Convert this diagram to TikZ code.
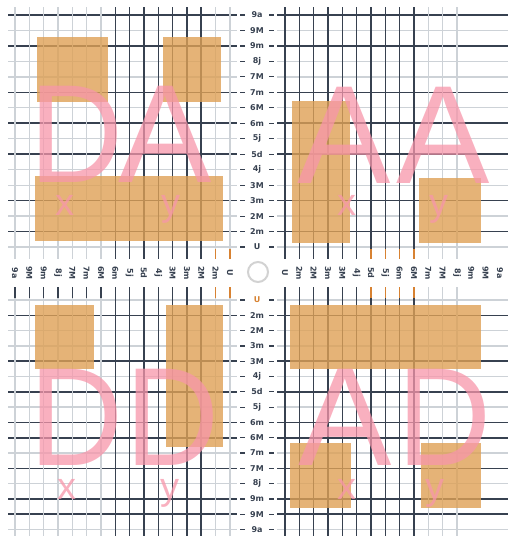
\documentclass[tikz,border=0pt]{standalone}
\usepackage{fontspec}
\setmainfont{Liberation Sans}
\newfontfamily\labelfont{DejaVu Sans}
\definecolor{rulingdark}{RGB}{55,65,80}
\definecolor{rulinglight}{RGB}{205,210,215}
\definecolor{rulingorange}{RGB}{215,130,50}
\definecolor{boxorange}{RGB}{222,160,85}
\definecolor{letterpink}{RGB}{247,150,170}

\begin{document}
\begin{tikzpicture}[x=1pt,y=-1pt,
  darkrule/.style={draw=rulingdark,line width=1.6pt},
  lightrule/.style={draw=rulinglight,line width=1.3pt},
  orangerule/.style={draw=rulingorange,line width=1.6pt},
  norule/.style={draw=none},
  rowlabel/.style={inner sep=0,text=rulingdark,font=\labelfont\bfseries\fontsize{8}{8}\selectfont},
  collabel/.style={rowlabel,rotate=-90},
  orangebox/.style={fill=boxorange,fill opacity=.8},
  bigletter/.style={anchor=base,inner sep=0,text=letterpink,text opacity=.75,font=\fontsize{140}{140}\selectfont},
  narrowd/.style={bigletter,xscale=.93},
  axisletter/.style={anchor=base,inner sep=0,text=letterpink,text opacity=.75,font=\fontsize{38}{38}\selectfont},
  hubring/.style={circle,draw=gray!35,line width=2pt,fill=white,minimum size=20pt,inner sep=0}]
  \useasboundingbox (0,0) rectangle (508,538);

  \foreach \lab/\s [count=\k from 0] in {9a/darkrule,9M/lightrule,9m/darkrule,8j/lightrule,
      7M/lightrule,7m/darkrule,6M/lightrule,6m/darkrule,5j/lightrule,5d/darkrule,
      4j/lightrule,3M/lightrule,3m/darkrule,2M/lightrule,2m/darkrule,U/lightrule}{
    \pgfmathsetmacro\yy{15+15.47*\k}
    \draw[\s] (8,\yy) -- (237,\yy) (277,\yy) -- (508,\yy);
    \draw[darkrule,line width=1.2pt] (240,\yy) -- (245,\yy) (269,\yy) -- (274,\yy);
    \node[rowlabel] (up-\k) at (257,\yy) {\lab};
  }
  \foreach \lab/\s/\c [count=\k from 0] in {U/lightrule/rulingorange,2m/darkrule/rulingdark,
      2M/lightrule/rulingdark,3m/lightrule/rulingdark,3M/darkrule/rulingdark,4j/lightrule/rulingdark,
      5d/darkrule/rulingdark,5j/lightrule/rulingdark,6m/darkrule/rulingdark,6M/darkrule/rulingdark,
      7m/lightrule/rulingdark,7M/darkrule/rulingdark,8j/lightrule/rulingdark,9m/darkrule/rulingdark,
      9M/darkrule/rulingdark,9a/lightrule/rulingdark}{
    \pgfmathsetmacro\yy{300+15.3*\k}
    \draw[\s] (8,\yy) -- (237,\yy) (277,\yy) -- (508,\yy);
    \draw[darkrule,line width=1.2pt] (240,\yy) -- (245,\yy) (269,\yy) -- (274,\yy);
    \node[rowlabel,text=\c] (down-\k) at (257,\yy) {\lab};
  }

  \foreach \lab/\ln/\tup/\tdn [count=\i from 0] in {9a/lightrule/lightrule/darkrule,
      9M/lightrule/lightrule/darkrule,9m/lightrule/lightrule/darkrule,8j/lightrule/lightrule/darkrule,
      7M/lightrule/lightrule/darkrule,7m/lightrule/lightrule/darkrule,6M/lightrule/lightrule/darkrule,
      6m/darkrule/darkrule/darkrule,5j/darkrule/darkrule/darkrule,5d/darkrule/darkrule/darkrule,
      4j/darkrule/darkrule/darkrule,3M/darkrule/darkrule/darkrule,3m/darkrule/darkrule/darkrule,
      2M/darkrule/darkrule/darkrule,2m/lightrule/orangerule/orangerule,U/lightrule/orangerule/orangerule}{
    \pgfmathsetmacro\xx{15+14.33*\i}
    \draw[\ln] (\xx,7) -- (\xx,249) (\xx,298) -- (\xx,536);
    \draw[\tup] (\xx,249) -- (\xx,259);
    \draw[\tdn] (\xx,287) -- (\xx,298);
    \node[collabel] (left-\i) at (\xx,273) {\lab};
  }
  \foreach \lab/\ln/\tk [count=\j from 0] in {U/darkrule/darkrule,2m/darkrule/darkrule,
      2M/darkrule/darkrule,3m/darkrule/darkrule,3M/darkrule/darkrule,4j/darkrule/darkrule,
      5d/darkrule/orangerule,5j/darkrule/orangerule,6m/darkrule/orangerule,6M/darkrule/orangerule,
      7m/lightrule/lightrule,7M/lightrule/lightrule,8j/lightrule/lightrule,
      9m/norule/norule,9M/norule/norule,9a/norule/norule}{
    \pgfmathsetmacro\xx{285+14.33*\j}
    \draw[\ln] (\xx,7) -- (\xx,249) (\xx,298) -- (\xx,536);
    \draw[\tk] (\xx,249) -- (\xx,259) (\xx,287) -- (\xx,298);
    \node[collabel] (right-\j) at (\xx,273) {\lab};
  }
  \node[hubring] (hub) at (258,272) {};

  \fill[orangebox] (37,37) rectangle (108,102);
  \fill[orangebox] (163,37) rectangle (221,102);
  \fill[orangebox] (35,176) rectangle (223,241);
  \fill[orangebox] (292,101) rectangle (350,243);
  \fill[orangebox] (419,178) rectangle (481,243);
  \fill[orangebox] (35,305) rectangle (94,369);
  \fill[orangebox] (166,305) rectangle (223,447);
  \fill[orangebox] (290,305) rectangle (481,369);
  \fill[orangebox] (290,443) rectangle (351,508);
  \fill[orangebox] (421,443) rectangle (481,508);

  \node[narrowd] (tl-d) at (76.5,182) {D};
  \node[bigletter] (tl-a) at (165,182) {A};
  \node[bigletter] (tr-a1) at (344.5,183) {A};
  \node[bigletter] (tr-a2) at (443,183) {A};
  \node[narrowd] (bl-d1) at (76.5,465) {D};
  \node[narrowd] (bl-d2) at (173,465) {D};
  \node[bigletter] (br-a) at (345.5,465) {A};
  \node[narrowd] (br-d) at (445,465) {D};

  \node[axisletter] (tl-x) at (65,215) {x};
  \node[axisletter] (tl-y) at (171,215) {y};
  \node[axisletter] (tr-x) at (347,215) {x};
  \node[axisletter] (tr-y) at (439,215) {y};
  \node[axisletter] (bl-x) at (67,499) {x};
  \node[axisletter] (bl-y) at (170,499) {y};
  \node[axisletter] (br-x) at (347,499) {x};
  \node[axisletter] (br-y) at (435,499) {y};
\end{tikzpicture}
\end{document}
